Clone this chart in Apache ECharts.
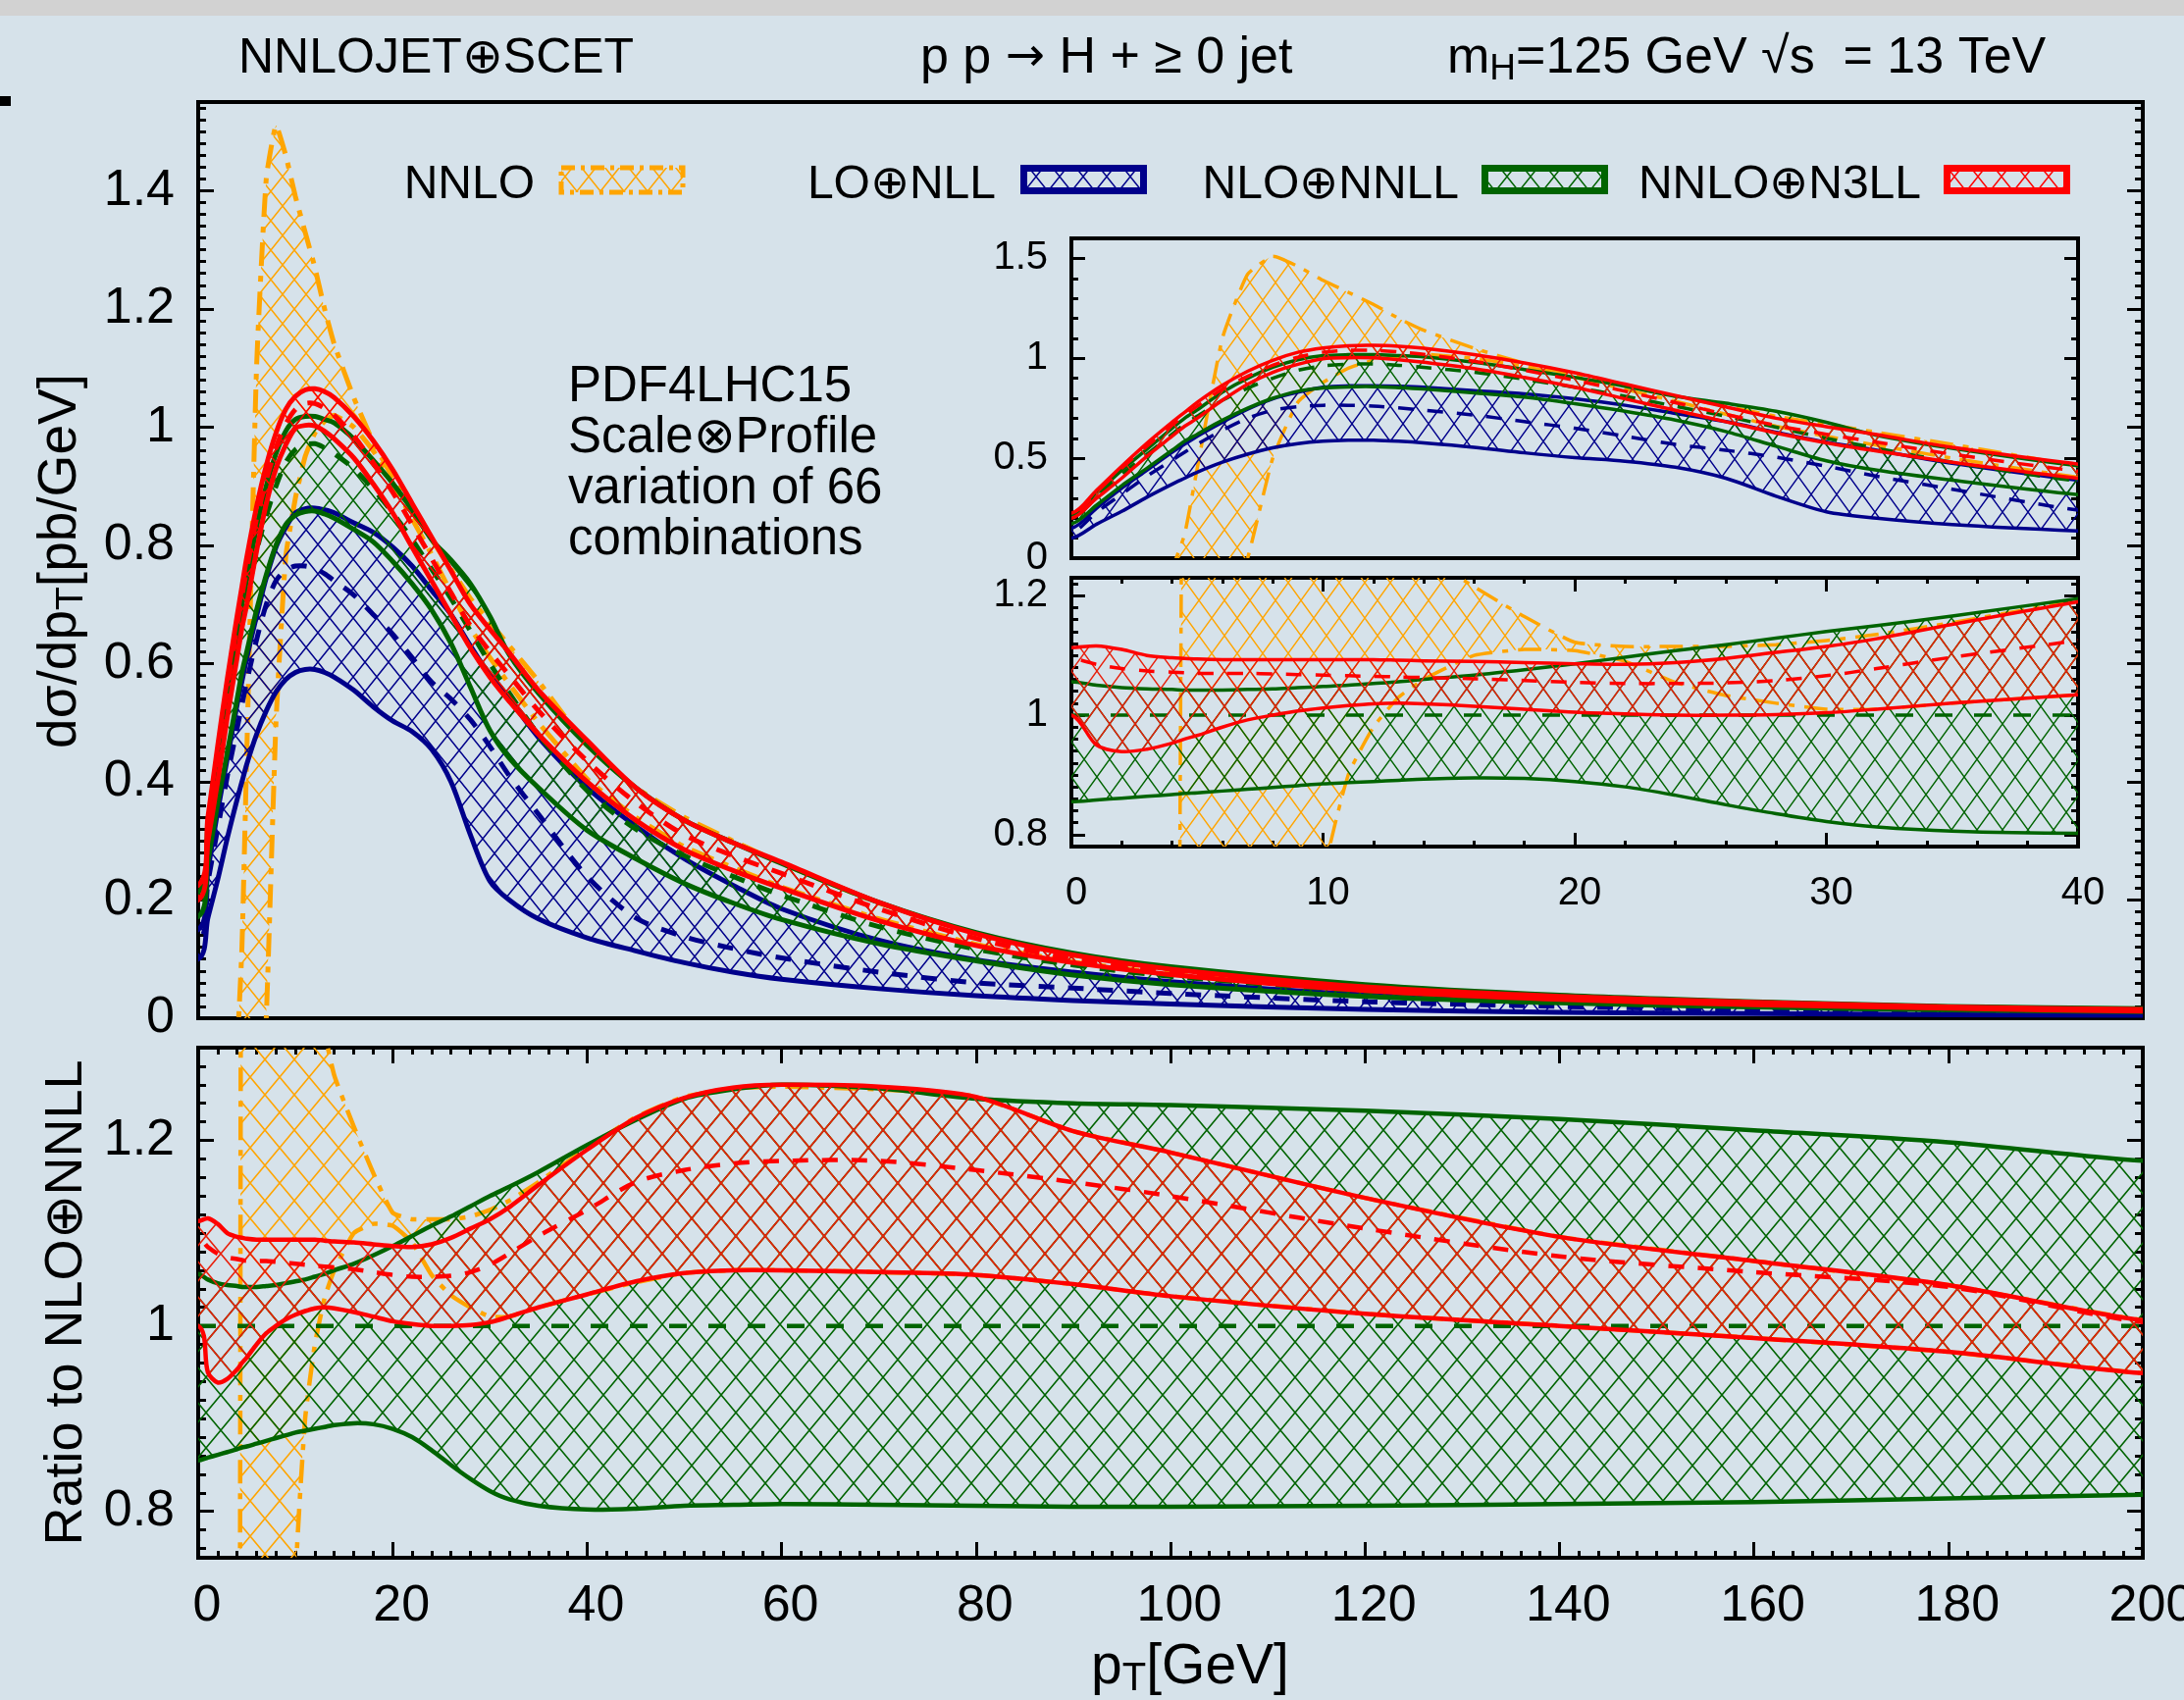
<!DOCTYPE html>
<html>
<head>
<meta charset="utf-8">
<title>Higgs pT spectrum</title>
<script src="https://cdn.jsdelivr.net/npm/echarts@6/dist/echarts.min.js"></script>
<style>
html, body { margin: 0; padding: 0; background: #d6e2ea; }
#chart { width: 2226px; height: 1733px; }
</style>
</head>
<body>
<div id="chart"></div>
<script>
// pT grid [GeV]
const pt = [0,1,2,3,4,4.5,5,6,7,8,9,10,11,12,13,14,16,18,20,22,24,26,28,30,32,35,40,45,50,55,60,70,80,90,100,120,140,160,180,200];

// upper panel: dsigma/dpT [pb/GeV]
const nnloLo = [-0.6,-0.6,-0.6,-0.6,-0.6,-0.6,-0.5,-0.3,0.0,0.5,0.78,0.88,0.95,0.99,1.01,1.02,1.0,0.96,0.905,0.845,0.785,0.72,0.66,0.61,0.565,0.5,0.405,0.34,0.29,0.255,0.222,0.168,0.125,0.095,0.075,0.048,0.033,0.024,0.017,0.013];
const nnloHi = [-0.3,-0.3,-0.3,-0.25,-0.05,0.12,0.45,1.1,1.42,1.51,1.46,1.39,1.33,1.27,1.2,1.14,1.05,0.975,0.915,0.862,0.81,0.76,0.71,0.67,0.63,0.57,0.462,0.39,0.34,0.3,0.262,0.195,0.143,0.107,0.083,0.053,0.037,0.027,0.019,0.015];
const loLo  = [0.10,0.17,0.234,0.305,0.37,0.40,0.43,0.48,0.52,0.552,0.573,0.585,0.59,0.59,0.585,0.577,0.555,0.527,0.503,0.485,0.455,0.40,0.31,0.232,0.2,0.168,0.136,0.114,0.094,0.078,0.066,0.05,0.038,0.03,0.024,0.015,0.01,0.008,0.006,0.005];
const loMid = [0.13,0.23,0.32,0.41,0.49,0.53,0.57,0.64,0.70,0.74,0.758,0.765,0.765,0.761,0.752,0.74,0.716,0.683,0.65,0.61,0.569,0.54,0.505,0.46,0.41,0.345,0.24,0.17,0.138,0.118,0.102,0.078,0.06,0.051,0.042,0.028,0.02,0.014,0.01,0.008];
const loHi  = [0.15,0.25,0.35,0.44,0.53,0.57,0.61,0.68,0.745,0.797,0.83,0.855,0.862,0.863,0.86,0.855,0.838,0.822,0.797,0.765,0.724,0.683,0.63,0.58,0.54,0.475,0.39,0.325,0.27,0.225,0.185,0.132,0.099,0.078,0.062,0.04,0.028,0.02,0.015,0.011];
const nlLo  = [0.172,0.265,0.363,0.45,0.54,0.585,0.62,0.69,0.75,0.80,0.835,0.851,0.857,0.858,0.853,0.846,0.827,0.806,0.773,0.735,0.691,0.634,0.56,0.487,0.44,0.39,0.318,0.27,0.228,0.195,0.167,0.126,0.097,0.073,0.057,0.037,0.026,0.019,0.014,0.011];
const nlMid = [0.2,0.31,0.42,0.52,0.62,0.67,0.71,0.79,0.85,0.9,0.94,0.962,0.97,0.972,0.965,0.955,0.93,0.895,0.855,0.81,0.76,0.71,0.655,0.6,0.55,0.48,0.385,0.32,0.275,0.24,0.208,0.155,0.117,0.09,0.071,0.046,0.032,0.023,0.017,0.013];
const nlHi  = [0.213,0.325,0.44,0.545,0.65,0.70,0.742,0.83,0.9,0.955,0.993,1.013,1.018,1.018,1.013,1.007,0.98,0.944,0.905,0.86,0.81,0.775,0.735,0.68,0.615,0.55,0.462,0.39,0.335,0.297,0.262,0.196,0.145,0.11,0.087,0.057,0.039,0.028,0.02,0.016];
const n3Lo  = [0.2,0.3,0.4,0.51,0.61,0.66,0.70,0.79,0.87,0.93,0.97,0.998,1.003,1.002,0.993,0.98,0.948,0.904,0.855,0.797,0.74,0.683,0.626,0.577,0.536,0.48,0.4,0.335,0.285,0.25,0.22,0.165,0.123,0.094,0.074,0.047,0.032,0.023,0.017,0.012];
const n3Mid = [0.215,0.33,0.45,0.56,0.665,0.715,0.76,0.845,0.91,0.965,1.005,1.03,1.04,1.04,1.032,1.02,0.985,0.94,0.89,0.835,0.778,0.72,0.664,0.62,0.58,0.52,0.435,0.365,0.31,0.275,0.245,0.185,0.135,0.1,0.078,0.05,0.034,0.025,0.018,0.014];
const n3Hi  = [0.225,0.34,0.46,0.575,0.68,0.73,0.78,0.865,0.935,0.99,1.03,1.052,1.063,1.065,1.06,1.05,1.018,0.977,0.928,0.871,0.814,0.757,0.70,0.658,0.618,0.555,0.47,0.39,0.335,0.297,0.264,0.196,0.143,0.107,0.083,0.053,0.037,0.027,0.019,0.015];

// lower panel: ratio to NLO+NNLL
const rNnloLo = [-1,-1,-1,-1,-1,-1,-1,-1,-1,-1,-1,0.72,0.9,0.98,1.03,1.06,1.1,1.11,1.108,1.09,1.055,1.033,1.02,1.01,1.01,1.02,1.034,1.047,1.057,1.06,1.06,1.058,1.055,1.045,1.032,1.013,1.0,0.987,0.972,0.949];
const rNnloHi = [-1,-1,-1,-1,-1,2,2,2,2,2,2,2,2,1.6,1.32,1.27,1.215,1.165,1.122,1.115,1.115,1.115,1.118,1.125,1.135,1.155,1.192,1.225,1.247,1.256,1.258,1.255,1.247,1.21,1.187,1.138,1.096,1.07,1.044,1.006];
const rNlLo = [0.855,0.858,0.861,0.864,0.867,0.869,0.87,0.873,0.876,0.879,0.882,0.885,0.887,0.889,0.891,0.893,0.895,0.894,0.889,0.88,0.866,0.85,0.835,0.822,0.813,0.806,0.802,0.803,0.806,0.807,0.808,0.807,0.806,0.805,0.805,0.806,0.808,0.81,0.814,0.818];
const rNlHi = [1.056,1.05,1.046,1.044,1.043,1.042,1.042,1.042,1.043,1.044,1.046,1.048,1.05,1.053,1.056,1.06,1.067,1.076,1.086,1.097,1.108,1.118,1.129,1.14,1.15,1.166,1.195,1.222,1.245,1.255,1.26,1.256,1.245,1.24,1.238,1.232,1.223,1.211,1.198,1.178];
const rN3Lo = [1.0,0.95,0.939,0.943,0.953,0.96,0.966,0.98,0.992,1.0,1.007,1.012,1.016,1.019,1.02,1.019,1.015,1.01,1.005,1.002,1.0,1.0,1.001,1.004,1.01,1.02,1.034,1.048,1.057,1.06,1.06,1.058,1.055,1.045,1.032,1.013,1.0,0.987,0.972,0.949];
const rN3Mid = [1.095,1.085,1.078,1.074,1.072,1.071,1.07,1.07,1.07,1.069,1.068,1.067,1.066,1.065,1.064,1.063,1.061,1.058,1.055,1.053,1.053,1.054,1.058,1.066,1.078,1.097,1.125,1.155,1.168,1.175,1.178,1.178,1.168,1.155,1.14,1.105,1.075,1.058,1.042,1.004];
const rN3Hi = [1.113,1.116,1.11,1.1,1.096,1.095,1.094,1.093,1.093,1.093,1.093,1.093,1.093,1.093,1.092,1.091,1.09,1.088,1.086,1.085,1.088,1.095,1.105,1.115,1.128,1.152,1.19,1.224,1.246,1.257,1.26,1.258,1.247,1.21,1.187,1.138,1.096,1.07,1.044,1.006];
const rNlRef = 1;

// tick labels
const mainYTicks = [0,0.2,0.4,0.6,0.8,1,1.2,1.4];
const ratioYTicks = [0.8,1,1.2];
const ptTicks = [0,20,40,60,80,100,120,140,160,180,200];
const insetYTicks = [0,0.5,1,1.5];
const insetRatioTicks = [0.8,1,1.2];
const insetPtTicks = [0,10,20,30,40];

const FONT = '"Liberation Sans", Arial, Helvetica, sans-serif';
const COL = { nnlo: '#ffa500', lo: '#00008b', nl: '#006400', n3: '#ff0000' };
const DASHDOT = [24, 10, 6, 10];

function hatch(color, w, h, lw) {
    const cv = document.createElement('canvas');
    cv.width = w; cv.height = h;
    const ctx = cv.getContext('2d');
    ctx.strokeStyle = color;
    ctx.lineWidth = lw;
    for (const dx of [-w, 0, w]) {
        for (const dy of [-h, 0, h]) {
            ctx.beginPath();
            ctx.moveTo(dx, dy); ctx.lineTo(dx + w, dy + h);
            ctx.moveTo(dx + w, dy); ctx.lineTo(dx, dy + h);
            ctx.stroke();
        }
    }
    return { image: cv, repeat: 'repeat' };
}

function steps(min, max, step) {
    const out = [];
    const k0 = Math.ceil(min / step - 1e-9);
    for (let k = k0; k * step <= max + 1e-9; k++) out.push(+(k * step).toFixed(4));
    return out;
}

function tick(vals, len) {
    return { show: true, inside: true, length: len, customValues: vals, lineStyle: { color: '#000', width: 3 } };
}

function axisSet(dir, grid, min, max, major, minorStep, fs, margin, majLen, minLen, shift) {
    const base = { type: 'value', gridIndex: grid, min: min, max: max, splitLine: { show: false }, axisLine: { show: false, onZero: false } };
    const minor = steps(min, max, minorStep);
    const p = dir === 'x' ? ['bottom', 'top'] : ['left', 'right'];
    return [
        Object.assign({}, base, { position: p[0], axisTick: tick(major, majLen),
            axisLabel: { show: true, customValues: major, fontSize: fs, fontFamily: FONT, color: '#000', margin: margin,
                padding: [0, 0, 0, shift || 0] } }),
        Object.assign({}, base, { position: p[0], axisTick: tick(minor, minLen), axisLabel: { show: false } }),
        Object.assign({}, base, { position: p[1], axisTick: tick(major, majLen), axisLabel: { show: false } }),
        Object.assign({}, base, { position: p[1], axisTick: tick(minor, minLen), axisLabel: { show: false } })
    ];
}

// carry the end points a little past the frame so the smoothing of the closed outline stays hidden by the clip
function padEnds(pts) {
    const a = pts[0], b = pts[pts.length - 1];
    return [[a[0] - 80, a[1]]].concat(pts, [[b[0] + 80, b[1]]]);
}

// one hatched band: filled outline between lo and hi, solid (or dash-dot) edges, optional dashed central line
function band(xi, yi, lo, hi, mid, color, pattern, st) {
    return {
        type: 'custom', xAxisIndex: xi, yAxisIndex: yi, clip: true, silent: true, z: st.z,
        data: [[pt[0], 0]],
        renderItem: function (params, api) {
            const up = padEnds(pt.map((x, i) => api.coord([x, hi[i]])));
            const dn = padEnds(pt.map((x, i) => api.coord([x, lo[i]])));
            const cs = params.coordSys;
            const edge = { fill: 'none', stroke: color, lineWidth: st.w, lineDash: st.dash || null, lineCap: 'butt' };
            const kids = [
                { type: 'polygon', shape: { points: up.concat(dn.slice().reverse()), smooth: st.smooth }, style: { fill: pattern, stroke: null } },
                { type: 'polyline', shape: { points: dn, smooth: st.smooth }, style: Object.assign({}, edge) },
                { type: 'polyline', shape: { points: up, smooth: st.smooth }, style: Object.assign({}, edge) }
            ];
            if (mid) {
                const md = padEnds(pt.map((x, i) => api.coord([x, mid[i]])));
                kids.push({ type: 'polyline', shape: { points: md, smooth: st.smooth },
                    style: { fill: 'none', stroke: color, lineWidth: st.w, lineDash: [16, 14] } });
            }
            if (st.ref !== undefined) {
                kids.push({ type: 'polyline', shape: { points: [api.coord([pt[0], st.ref]), api.coord([pt[pt.length - 1], st.ref])] },
                    style: { fill: 'none', stroke: color, lineWidth: st.w, lineDash: [18, 22] } });
            }
            return { type: 'group', children: kids,
                clipPath: { type: 'rect', shape: { x: cs.x, y: cs.y, width: cs.width, height: cs.height } } };
        }
    };
}

function spectrum(xi, yi, w, pat) {
    return [
        band(xi, yi, nnloLo, nnloHi, null, COL.nnlo, pat.nnlo, { w: w, smooth: 0.15, dash: DASHDOT, z: 2 }),
        band(xi, yi, loLo, loHi, loMid, COL.lo, pat.lo, { w: w, smooth: 0.3, z: 3 }),
        band(xi, yi, nlLo, nlHi, nlMid, COL.nl, pat.nl, { w: w, smooth: 0.3, z: 4 }),
        band(xi, yi, n3Lo, n3Hi, n3Mid, COL.n3, pat.n3, { w: w, smooth: 0.3, z: 5 })
    ];
}

function ratio(xi, yi, w, pat) {
    return [
        band(xi, yi, rNnloLo, rNnloHi, null, COL.nnlo, pat.nnlo, { w: w, smooth: 0.15, dash: DASHDOT, z: 2 }),
        band(xi, yi, rNlLo, rNlHi, null, COL.nl, pat.nl, { w: w, smooth: 0.3, z: 3, ref: rNlRef }),
        band(xi, yi, rN3Lo, rN3Hi, rN3Mid, COL.n3, pat.n3, { w: w, smooth: 0.3, z: 4 })
    ];
}

const patMain = { nnlo: hatch(COL.nnlo, 24, 30, 1.5), lo: hatch(COL.lo, 24, 30, 1.5), nl: hatch(COL.nl, 24, 30, 1.5), n3: hatch(COL.n3, 24, 30, 1.5) };
const patRatio = { nnlo: hatch(COL.nnlo, 30, 36, 1.6), nl: hatch(COL.nl, 30, 36, 1.6), n3: hatch('#e8200c', 30, 36, 1.6) };
const patInset = { nnlo: hatch(COL.nnlo, 26, 36, 1.4), lo: hatch(COL.lo, 26, 36, 1.4), nl: hatch(COL.nl, 26, 36, 1.4), n3: hatch('#e8200c', 26, 36, 1.4) };

const gridStyle = { show: true, borderColor: '#000', borderWidth: 4, backgroundColor: 'transparent', containLabel: false, outerBoundsMode: 'none' };

// x axes: 0 main(hidden), 1-4 ratio, 5 inset top(hidden), 6-9 inset ratio
const xAxes = [].concat(
    [{ type: 'value', gridIndex: 0, min: 0, max: 200, show: false }],
    axisSet('x', 1, 0, 200, ptTicks, 2, 52, 24, 16, 7, 18),
    [{ type: 'value', gridIndex: 2, min: 0, max: 40, show: false }],
    axisSet('x', 3, 0, 40, insetPtTicks, 2, 40, 28, 14, 6, 10)
);
// y axes: 0-3 main, 4-7 ratio, 8-11 inset top, 12-15 inset ratio
const yAxes = [].concat(
    axisSet('y', 0, 0, 1.55, mainYTicks, 0.02, 52, 24, 16, 8),
    axisSet('y', 1, 0.75, 1.3, ratioYTicks, 0.02, 52, 24, 16, 8),
    axisSet('y', 2, 0, 1.6, insetYTicks, 0.1, 40, 24, 14, 7),
    axisSet('y', 3, 0.78, 1.23, insetRatioTicks, 0.02, 40, 24, 14, 7)
);

const series = [].concat(
    spectrum(0, 0, 5, patMain),
    ratio(1, 4, 4.5, patRatio),
    spectrum(5, 8, 3.5, patInset),
    ratio(6, 12, 3.5, patInset)
);

function txt(x, y, text, fs, extra) {
    return { type: 'text', x: x, y: y, silent: true, z: 100,
        style: Object.assign({ text: text, fontSize: fs, fontFamily: FONT, fill: '#000',
            align: 'left', verticalAlign: 'middle', textAlign: 'left', textVerticalAlign: 'middle' }, extra || {}) };
}

const sub = (fs, pad) => ({ fontSize: fs, fontFamily: FONT, fill: '#000', padding: [pad, 0, 0, 0] });

function swatch(x, color, pattern, dashed) {
    return { type: 'rect', silent: true, z: 100,
        shape: dashed ? { x: x + 2, y: 171, width: 124, height: 25 } : { x: x + 3.5, y: 171.5, width: 122, height: 23 },
        style: { fill: pattern, stroke: color, lineWidth: dashed ? 5 : 7, lineDash: dashed ? [14, 6, 4, 6] : null } };
}

const graphics = [
    { type: 'rect', silent: true, shape: { x: 0, y: 0, width: 2226, height: 16 }, style: { fill: '#d2d2d2' } },
    { type: 'rect', silent: true, shape: { x: 0, y: 98, width: 11, height: 10 }, style: { fill: '#000' } },
    txt(243, 60, 'NNLOJET⊕SCET', 50),
    txt(938, 60, 'p p {a|→} H + ≥ 0 jet', 52, { rich: { a: { fontSize: 48, fontFamily: '"DejaVu Sans"', fill: '#000' } } }),
    txt(1475, 60, 'm{s|H}=125 GeV √s  = 13 TeV', 52, { rich: { s: sub(37, 22) } }),
    txt(545, 189, 'NNLO', 48, { align: 'right', textAlign: 'right' }),
    swatch(570, COL.nnlo, patMain.nnlo, true),
    txt(1015, 189, 'LO⊕NLL', 48, { align: 'right', textAlign: 'right' }),
    swatch(1040, COL.lo, patMain.lo, false),
    txt(1487, 189, 'NLO⊕NNLL', 48, { align: 'right', textAlign: 'right' }),
    swatch(1510, COL.nl, patMain.nl, false),
    txt(1958, 189, 'NNLO⊕N3LL', 48, { align: 'right', textAlign: 'right' }),
    swatch(1981, COL.n3, patMain.n3, false),
    txt(579, 369, 'PDF4LHC15\nScale⊗Profile\nvariation of 66\ncombinations', 51,
        { verticalAlign: 'top', textVerticalAlign: 'top', lineHeight: 52 }),
    Object.assign(txt(62, 572, 'dσ/dp{s|T}[pb/GeV]', 55, { align: 'center', textAlign: 'center', rich: { s: sub(39, 22) } }),
        { rotation: Math.PI / 2 }),
    Object.assign(txt(68, 1328, 'Ratio to NLO⊕NNLL', 54, { align: 'center', textAlign: 'center' }),
        { rotation: Math.PI / 2 }),
    txt(1213, 1700, 'p{s|T}[GeV]', 57, { align: 'center', textAlign: 'center', rich: { s: sub(40, 23) } })
];

const chart = echarts.init(document.getElementById('chart'));
const option = {
    animation: false,
    backgroundColor: '#d6e2ea',
    grid: [
        Object.assign({ left: 202, top: 104, width: 1982, height: 934 }, gridStyle),
        Object.assign({ left: 202, top: 1068, width: 1982, height: 520 }, gridStyle),
        Object.assign({ left: 1092, top: 243, width: 1026, height: 326 }, gridStyle),
        Object.assign({ left: 1092, top: 589, width: 1026, height: 274 }, gridStyle)
    ],
    xAxis: xAxes,
    yAxis: yAxes,
    series: series,
    graphic: graphics
};
chart.setOption(option);
window.onresize = () => chart.resize();
</script>
</body>
</html>
